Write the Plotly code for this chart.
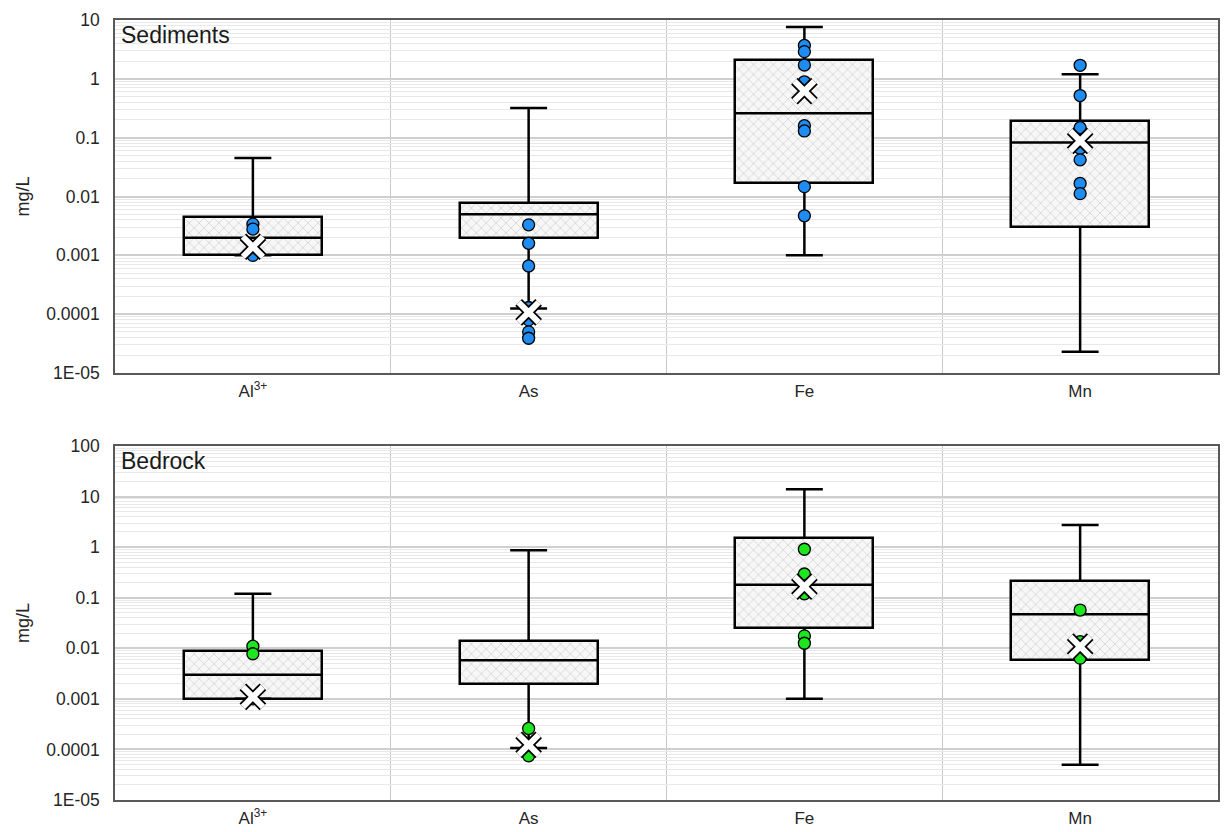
import plotly.graph_objects as go
from plotly.subplots import make_subplots

# Analytes (x categories)
categories = ["Al<sup>3+</sup>", "As", "Fe", "Mn"]

# Sediment-hosted wells: box statistics (mg/L)
sed_q1 = [0.001, 0.002, 0.0167, 0.003]
sed_median = [0.002, 0.005, 0.26, 0.083]
sed_q3 = [0.0044, 0.0079, 2.1, 0.19]
sed_low = [0.001, 0.000125, 0.001, 0.000023]
sed_high = [0.045, 0.32, 7.6, 1.2]
sed_mean = [0.0014, 0.000107, 0.62, 0.088]
sed_al_pts = [0.0034, 0.0028, 0.0013, 0.001]
sed_as_pts = [0.0033, 0.0016, 0.00066, 0.00013, 0.00008, 0.00005, 0.000039]
sed_fe_pts = [3.7, 2.9, 1.72, 0.89, 0.16, 0.13, 0.0147, 0.0047]
sed_mn_pts = [1.7, 0.52, 0.148, 0.066, 0.042, 0.0167, 0.0112]

# Bedrock wells: box statistics (mg/L)
bed_q1 = [0.001, 0.002, 0.0257, 0.0059]
bed_median = [0.003, 0.0058, 0.18, 0.047]
bed_q3 = [0.0089, 0.0142, 1.5, 0.21]
bed_low = [0.001, 0.000107, 0.001, 0.00005]
bed_high = [0.12, 0.87, 13.9, 2.75]
bed_mean = [0.0011, 0.000123, 0.166, 0.0108]
bed_al_pts = [0.011, 0.0078, 0.001]
bed_as_pts = [0.00026, 0.000075]
bed_fe_pts = [0.91, 0.295, 0.12, 0.0176, 0.0126]
bed_mn_pts = [0.057, 0.0135, 0.0064]

FONT = "Liberation Sans, Arial, sans-serif"
BOX_W = 0.5
CAP = 0.067
LINE_W = 2.5

fig = make_subplots(rows=2, cols=1, vertical_spacing=0.09)


def add_panel(row, q1, med, q3, low, high, mean, pts, color):
    xs = list(range(len(categories)))
    # hatched interquartile boxes
    fig.add_trace(go.Bar(
        x=xs, base=q1, y=[b - a for a, b in zip(q1, q3)], width=BOX_W,
        marker=dict(color="white", line=dict(color="black", width=LINE_W),
                    pattern=dict(shape="x", fgcolor="#acacac", bgcolor="#f7f7f7",
                                 size=7, solidity=0.2)),
        showlegend=False, hoverinfo="skip"), row=row, col=1)
    # whiskers and caps
    wx, wy = [], []
    for i in xs:
        wx += [i, i, None, i, i, None, i - CAP, i + CAP, None, i - CAP, i + CAP, None]
        wy += [q3[i], high[i], None, q1[i], low[i], None, high[i], high[i], None,
               low[i], low[i], None]
    fig.add_trace(go.Scatter(x=wx, y=wy, mode="lines",
                             line=dict(color="black", width=LINE_W),
                             showlegend=False, hoverinfo="skip"), row=row, col=1)
    # medians
    mx, my = [], []
    for i in xs:
        mx += [i - BOX_W / 2, i + BOX_W / 2, None]
        my += [med[i], med[i], None]
    fig.add_trace(go.Scatter(x=mx, y=my, mode="lines",
                             line=dict(color="black", width=LINE_W),
                             showlegend=False, hoverinfo="skip"), row=row, col=1)
    # individual samples
    px, py = [], []
    for i, vals in enumerate(pts):
        px += [i] * len(vals)
        py += vals
    fig.add_trace(go.Scatter(x=px, y=py, mode="markers",
                             marker=dict(size=12, color=color,
                                         line=dict(color="black", width=1.3)),
                             showlegend=False), row=row, col=1)
    # means: white X with a black outline
    fig.add_trace(go.Scatter(x=xs, y=mean, mode="markers",
                             marker=dict(symbol="x-thin", size=20,
                                         line=dict(color="black", width=9.5)),
                             showlegend=False, hoverinfo="skip"), row=row, col=1)
    fig.add_trace(go.Scatter(x=xs, y=mean, mode="markers",
                             marker=dict(symbol="x-thin", size=20,
                                         line=dict(color="white", width=6)),
                             showlegend=False), row=row, col=1)


add_panel(1, sed_q1, sed_median, sed_q3, sed_low, sed_high, sed_mean,
          [sed_al_pts, sed_as_pts, sed_fe_pts, sed_mn_pts], "#1e8cf0")
add_panel(2, bed_q1, bed_median, bed_q3, bed_low, bed_high, bed_mean,
          [bed_al_pts, bed_as_pts, bed_fe_pts, bed_mn_pts], "#1ee61e")

tick_font = dict(family=FONT, size=17, color="#262626")

for r in (1, 2):
    fig.update_xaxes(
        range=[-0.5, 3.5], tickvals=list(range(4)), ticktext=categories,
        showgrid=False, zeroline=False, tickfont=tick_font, automargin=False,
        ticks="outside", ticklen=2, tickcolor="rgba(0,0,0,0)",
        showline=True, mirror=True, linecolor="#595959", linewidth=1.5,
        minor=dict(tickvals=[0.5, 1.5, 2.5], showgrid=True, gridcolor="#c8c8c8",
                   gridwidth=1, ticks=""),
        row=r, col=1)

top_vals = [1e-5, 1e-4, 1e-3, 1e-2, 1e-1, 1, 10]
top_text = ["1E-05", "0.0001", "0.001", "0.01", "0.1", "1", "10"]
bot_vals = top_vals + [100]
bot_text = top_text + ["100"]

for r, vals, text, rng in ((1, top_vals, top_text, [-5, 1]),
                           (2, bot_vals, bot_text, [-5, 2])):
    fig.update_yaxes(
        type="log", range=rng, tickvals=vals, ticktext=text,
        tickfont=dict(family=FONT, size=17.5, color="#262626"),
        showgrid=True, gridcolor="#cfcfcf", gridwidth=1.5, zeroline=False,
        automargin=False,
        ticks="outside", ticklen=10, tickcolor="rgba(0,0,0,0)",
        showline=True, mirror=True, linecolor="#595959", linewidth=1.5,
        minor=dict(dtick="D1", showgrid=True, gridcolor="#e8e8e8", gridwidth=1,
                   ticks=""),
        title_text="mg/L", title_standoff=12,
        title_font=dict(family=FONT, size=18, color="#262626"),
        row=r, col=1)

fig.update_layout(
    width=1224, height=832,
    margin=dict(l=115, r=6, t=20, b=32, autoexpand=False),
    plot_bgcolor="white", paper_bgcolor="white",
    barmode="overlay", bargap=0,
    font=dict(family=FONT, color="#262626"),
)
fig.update_yaxes(domain=[0.5474, 1.0], row=1, col=1)
fig.update_yaxes(domain=[0.0, 0.4538], row=2, col=1)

for ref, label in (("", "Sediments"), ("2", "Bedrock")):
    fig.add_annotation(text=label, xref=f"x{ref} domain", yref=f"y{ref} domain",
                       x=0.004, y=1.0, xanchor="left", yanchor="top",
                       showarrow=False, font=dict(family=FONT, size=23, color="#1a1a1a"))

fig.write_html("out.html")
